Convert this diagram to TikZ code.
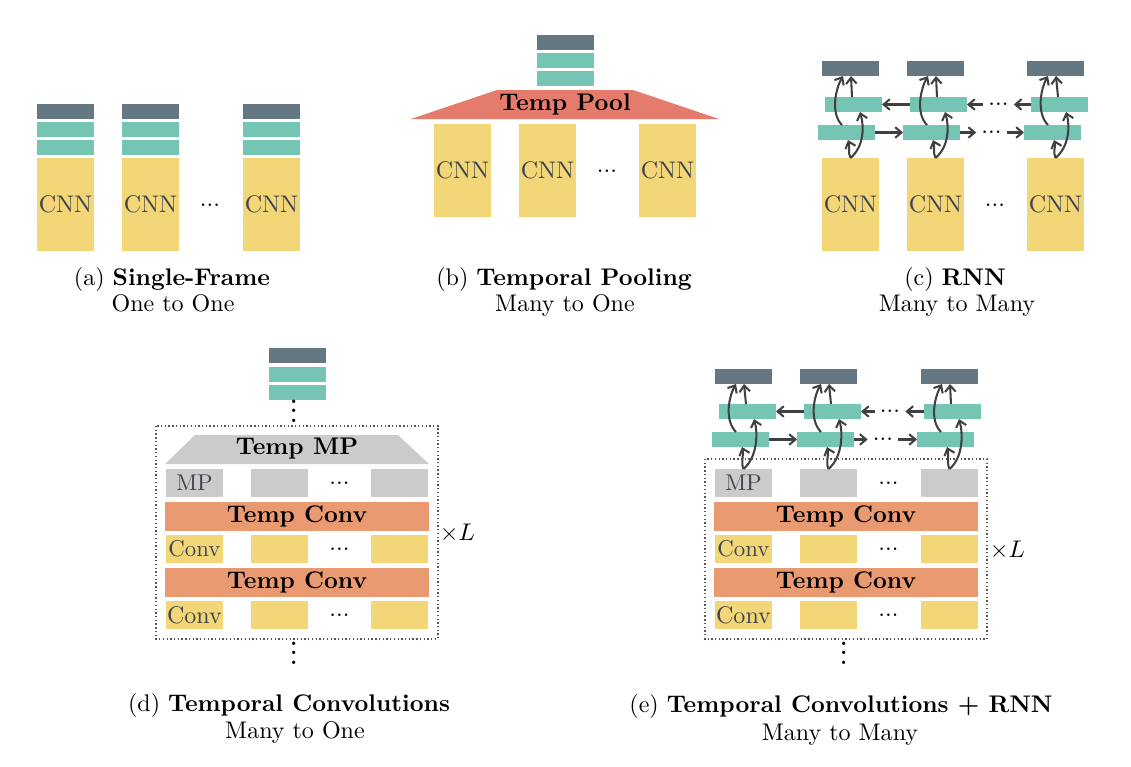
\documentclass[tikz,border=0pt]{standalone}
\usetikzlibrary{arrows.meta,calc}
\def\pxu{0.416pt}
\definecolor{cdark}{RGB}{101,119,131}
\definecolor{cteal}{RGB}{117,197,181}
\definecolor{cyel}{RGB}{243,214,120}
\definecolor{cpool}{RGB}{229,123,108}
\definecolor{corange}{RGB}{233,154,112}
\definecolor{cgray}{RGB}{203,203,203}
\definecolor{ctext}{RGB}{62,68,76}
\definecolor{carrow}{RGB}{64,64,64}
\definecolor{cdot}{RGB}{85,85,85}
\newcommand\myvdots{\vbox{\baselineskip=4pt\lineskiplimit=0pt\hbox{.}\hbox{.}\hbox{.}}}
\newcommand\rnnarrows[4]{%
  \draw[arr] (#1.north) .. controls +(-3,-6) and +(2,6) .. ($(#2.south)+(1.5,0)$);
  \draw[arr] (#1.north) .. controls +(14,-12) and +(4,14) .. ($(#3.south)+(6.5,0)$);
  \draw[arr] ($(#2.north)+(-4.5,0)$) .. controls +(-12,-12) and +(-7,12) .. ($(#4.south)+(-7.5,0)$);
  \draw[arr] ($(#3.north)+(-1.5,0)$) -- ($(#4.south)+(0.5,0)$);
}
\tikzset{
  bx/.style={inner sep=0pt, outer sep=0pt, minimum width={57*\pxu}},
  outb/.style={bx, fill=cdark, minimum height={15*\pxu}},
  hidb/.style={bx, fill=cteal, minimum height={15*\pxu}},
  cnnb/.style={bx, fill=cyel, minimum height={93*\pxu}, text=ctext},
  mpb/.style={bx, fill=cgray, minimum height={28*\pxu}, text=ctext, font=\fontsize{9.5}{11}\selectfont},
  convb/.style={bx, fill=cyel, minimum height={28*\pxu}, text=ctext},
  convs/.style={convb, font=\fontsize{9.5}{11}\selectfont},
  tconv/.style={inner sep=0pt, fill=corange, minimum width={264*\pxu}, minimum height={29*\pxu}, font=\bfseries},
  dotsn/.style={inner sep=0pt},
  adots/.style={inner sep=2pt},
  vd/.style={inner sep=0pt, anchor=south, font=\Large},
  captxt/.style={anchor=base, inner sep=0pt},
  arr/.style={draw=carrow, line width=0.85pt, -{Straight Barb[length=2.6pt,width=4.4pt]}},
  dbox/.style={draw=cdot, densely dotted, line width=0.55pt},
}
\begin{document}
\begin{tikzpicture}[x=\pxu, y=-\pxu]
\useasboundingbox (0,0) rectangle (1131,767);

% ---------------- (a) Single-Frame
\foreach \i/\x in {1/65.5,2/150.5,3/271.5}{
  \node[outb] (ao\i) at (\x,111.5) {};
  \node[hidb] (ah\i) at (\x,129.5) {};
  \node[hidb] (ag\i) at (\x,147.5) {};
  \node[cnnb] (ac\i) at (\x,204.5) {CNN};
}
\node[dotsn] (adt) at (210,205) {...};
\node[captxt] (capa1) at (172,285) {(a) \textbf{Single-Frame}};
\node[captxt] (capa2) at (173,311) {One to One};

% ---------------- (b) Temporal Pooling
\node[outb] (bo) at (565.5,42.5) {};
\node[hidb] (bh) at (565.5,60.5) {};
\node[hidb] (bg) at (565.5,78.5) {};
\fill[cpool] (497,90) -- (633,90) -- (719,119) -- (411,119) -- cycle;
\node (btp) at (565,104.5) {\textbf{Temp Pool}};
\foreach \i/\x in {1/462.5,2/547.5,3/667.5}{
  \node[cnnb] (bc\i) at (\x,170.5) {CNN};
}
\node[dotsn] (bdt) at (607,171) {...};
\node[captxt] (capb1) at (564,285) {(b) \textbf{Temporal Pooling}};
\node[captxt] (capb2) at (565,311) {Many to One};

% ---------------- (c) RNN
\foreach \i/\x in {1/850.5,2/935.5,3/1055.5}{
  \node[outb] (co\i) at (\x,68.5) {};
  \node[cnnb] (cc\i) at (\x,204.5) {CNN};
}
\foreach \i/\x in {1/853.5,2/938.5,3/1059.5}{
  \node[hidb] (cu\i) at (\x,104.5) {};
}
\foreach \i/\x in {1/846.5,2/931.5,3/1052.5}{
  \node[hidb] (cl\i) at (\x,132.5) {};
}
\node[dotsn] (cdt) at (995,205) {...};
\node[adots] (cld) at (991.5,132.5) {...};
\node[adots] (cud) at (998.5,104.5) {...};
\draw[arr] (cl1.east) -- (cl2.west);
\draw[arr] (cl2.east) -- (cld.west);
\draw[arr] (cld.east) -- (cl3.west);
\draw[arr] (cu2.west) -- (cu1.east);
\draw[arr] (cu3.west) -- (cud.east);
\draw[arr] (cud.west) -- (cu2.east);
\rnnarrows{cc1}{cl1}{cu1}{co1}
\rnnarrows{cc2}{cl2}{cu2}{co2}
\rnnarrows{cc3}{cl3}{cu3}{co3}
\node[captxt] (capc1) at (955,285) {(c) \textbf{RNN}};
\node[captxt] (capc2) at (957,311) {Many to Many};

% ---------------- (d) Temporal Convolutions
\node[outb] (do) at (297.5,355.5) {};
\node[hidb] (dh) at (297.5,374.5) {};
\node[hidb] (dg) at (297.5,392.5) {};
\node[vd] (dvt) at (294.5,423) {\myvdots};
\draw[dbox] (156,426) rectangle (438,639);
\fill[cgray] (195,435) -- (398,435) -- (429,464) -- (165,464) -- cycle;
\node (dtmp) at (297,449) {\textbf{Temp MP}};
\node[mpb] (dm1) at (194.5,483) {MP};
\node[mpb] (dm2) at (279.5,483) {};
\node[mpb] (dm3) at (399.5,483) {};
\node[dotsn] (dmd) at (339.5,483) {...};
\node[tconv] (dtc1) at (297,516.5) {Temp Conv};
\node[convs] (dca1) at (194.5,549) {Conv};
\node[convb] (dca2) at (279.5,549) {};
\node[convb] (dca3) at (399.5,549) {};
\node[dotsn] (dcad) at (339.5,549) {...};
\node[tconv] (dtc2) at (297,582.5) {Temp Conv};
\node[convb] (dcb1) at (194.5,615) {Conv};
\node[convb] (dcb2) at (279.5,615) {};
\node[convb] (dcb3) at (399.5,615) {};
\node[dotsn] (dcbd) at (339.5,615) {...};
\node[vd] (dvb) at (294.5,665) {\myvdots};
\node (dxl) at (457.5,533) {$\times L$};
\node[captxt] (capd1) at (289,711) {(d) \textbf{Temporal Convolutions}};
\node[captxt] (capd2) at (295,738) {Many to One};

% ---------------- (e) Temporal Convolutions + RNN
\foreach \i/\x in {1/743.5,2/828.5,3/949.5}{
  \node[outb] (eo\i) at (\x,376.5) {};
}
\foreach \i/\x in {1/747.5,2/832.5,3/952.5}{
  \node[hidb] (eu\i) at (\x,411.5) {};
}
\foreach \i/\x in {1/740.5,2/825.5,3/945.5}{
  \node[hidb] (el\i) at (\x,439.5) {};
}
\draw[dbox] (705,459) rectangle (987,639);
\node[mpb] (em1) at (743.5,483) {MP};
\node[mpb] (em2) at (828.5,483) {};
\node[mpb] (em3) at (949.5,483) {};
\node[dotsn] (emd) at (888.5,483) {...};
\node[tconv] (etc1) at (846,516.5) {Temp Conv};
\node[convs] (eca1) at (743.5,549) {Conv};
\node[convb] (eca2) at (828.5,549) {};
\node[convb] (eca3) at (949.5,549) {};
\node[dotsn] (ecad) at (888.5,549) {...};
\node[tconv] (etc2) at (846,582.5) {Temp Conv};
\node[convb] (ecb1) at (743.5,615) {Conv};
\node[convb] (ecb2) at (828.5,615) {};
\node[convb] (ecb3) at (949.5,615) {};
\node[dotsn] (ecbd) at (888.5,615) {...};
\node[vd] (evb) at (844.5,665) {\myvdots};
\node (exl) at (1007.5,550) {$\times L$};
\node[adots] (eld) at (883,439.5) {...};
\node[adots] (eud) at (890,411.5) {...};
\draw[arr] (el1.east) -- (el2.west);
\draw[arr] (el2.east) -- (eld.west);
\draw[arr] (eld.east) -- (el3.west);
\draw[arr] (eu2.west) -- (eu1.east);
\draw[arr] (eu3.west) -- (eud.east);
\draw[arr] (eud.west) -- (eu2.east);
\rnnarrows{em1}{el1}{eu1}{eo1}
\rnnarrows{em2}{el2}{eu2}{eo2}
\rnnarrows{em3}{el3}{eu3}{eo3}
\node[captxt] (cape1) at (841,712) {(e) \textbf{Temporal Convolutions + RNN}};
\node[captxt] (cape2) at (840,740) {Many to Many};
\end{tikzpicture}
\end{document}
